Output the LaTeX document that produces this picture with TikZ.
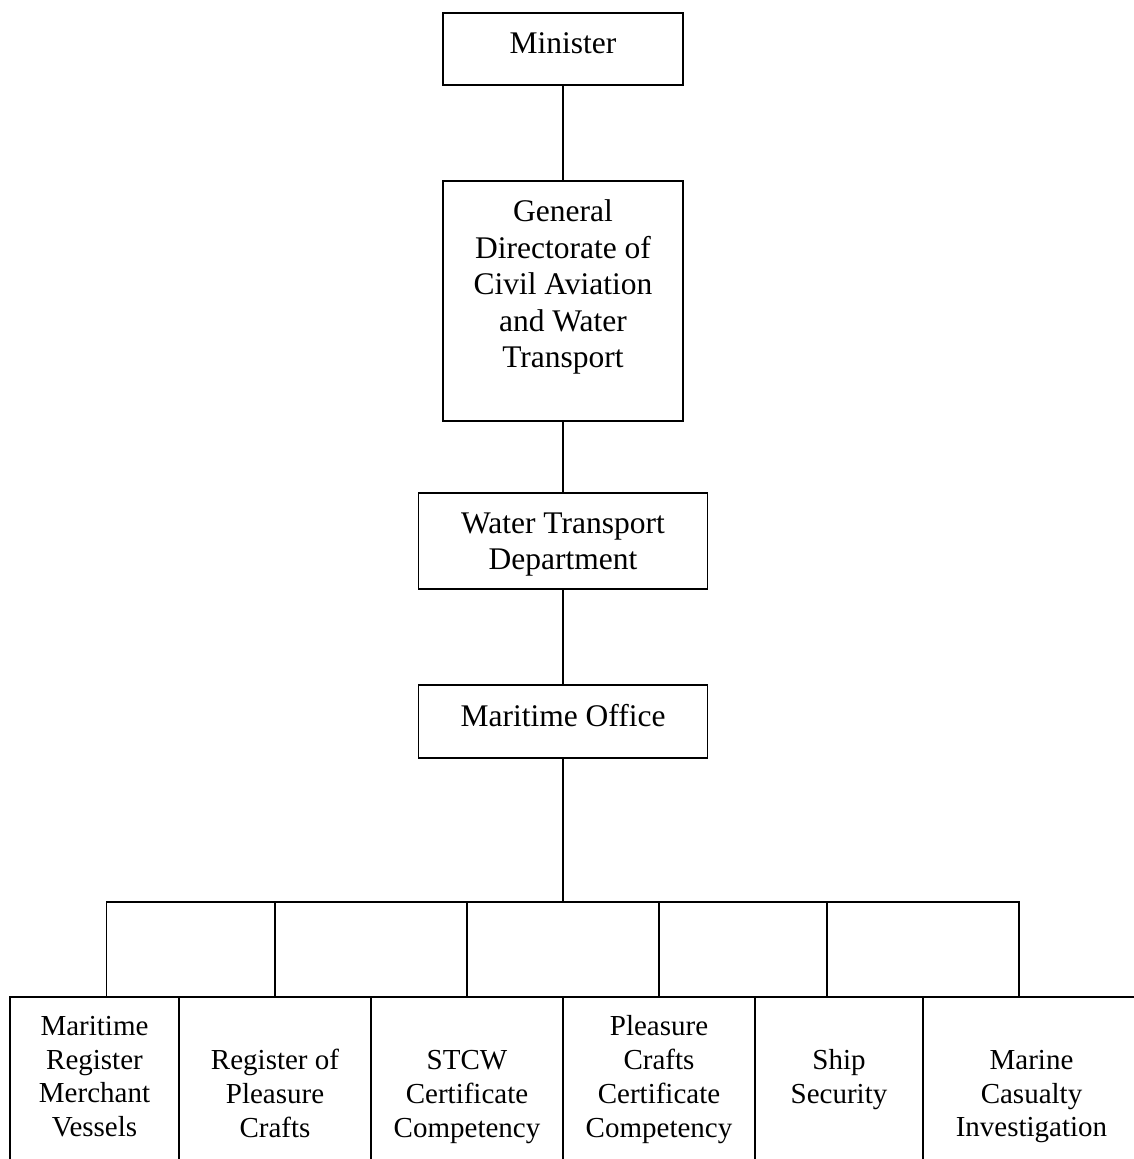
\documentclass[tikz,border=0pt]{standalone}
\usepackage{fontspec}
\setmainfont{Liberation Serif}
\tikzset{
	orgbox/.style={draw, inner sep=0pt},
	toptext/.style={align=center, font=\fontsize{31.5}{36.5}\selectfont},
	subtext/.style={align=center, font=\fontsize{29}{33.7}\selectfont}
}
\begin{document}
\begin{tikzpicture}[x=1pt, y=-1pt, line width=1.8pt]
		\useasboundingbox (0,0) rectangle (1134,1159);
		\clip (0,0) rectangle (1134,1159);
		\node[orgbox, minimum width=240, minimum height=72] (minister) at (563,49) {};
		\node[orgbox, minimum width=240, minimum height=240] (gd) at (563,301) {};
		\node[orgbox, minimum width=289, minimum height=96] (wtd) at (563,541) {};
		\node[orgbox, minimum width=289, minimum height=73] (mo) at (563,721.5) {};
		\node[toptext] (minister-t) at (563,43.5) {Minister};
		\node[toptext] (gd-t) at (563,287) {General\\Directorate of\\Civil Aviation\\and Water\\Transport};
		\node[toptext] (wtd-t) at (563,544.3) {Water Transport\\Department};
		\node[toptext] (mo-t) at (563,715.3) {Maritime Office};
		\node[orgbox, minimum width=169, minimum height=200] (b1) at (94.5,1097) {};
		\node[orgbox, minimum width=192, minimum height=200] (b2) at (275,1097) {};
		\node[orgbox, minimum width=192, minimum height=200] (b3) at (467,1097) {};
		\node[orgbox, minimum width=192, minimum height=200] (b4) at (659,1097) {};
		\node[orgbox, minimum width=168, minimum height=200] (b5) at (839,1097) {};
		\node[orgbox, minimum width=217, minimum height=200] (b6) at (1031.5,1097) {};
		\node[subtext] (b1-t) at (94.5,1076.5) {Maritime\\Register\\Merchant\\Vessels};
		\node[subtext] (b2-t) at (275,1093.5) {Register of\\Pleasure\\Crafts};
		\node[subtext] (b3-t) at (467,1096.9) {STCW\\Certificate\\Competency};
		\node[subtext] (b4-t) at (659,1079.6) {Pleasure\\Crafts\\Certificate\\Competency};
		\node[subtext] (b5-t) at (839,1079.8) {Ship\\Security};
		\node[subtext] (b6-t) at (1031.5,1096.6) {Marine\\Casualty\\Investigation};
		\coordinate (bus) at (563,902);
		\draw (minister) -- (gd);
		\draw (gd) -- (wtd);
		\draw (wtd) -- (mo);
		\draw (mo) -- (bus);
		\foreach \b/\dx in {b1/12, b2/0, b3/0, b4/0, b5/-12, b6/-12.5}
			\draw ([xshift=\dx]\b.north) |- (bus);
	\end{tikzpicture}
\end{document}
